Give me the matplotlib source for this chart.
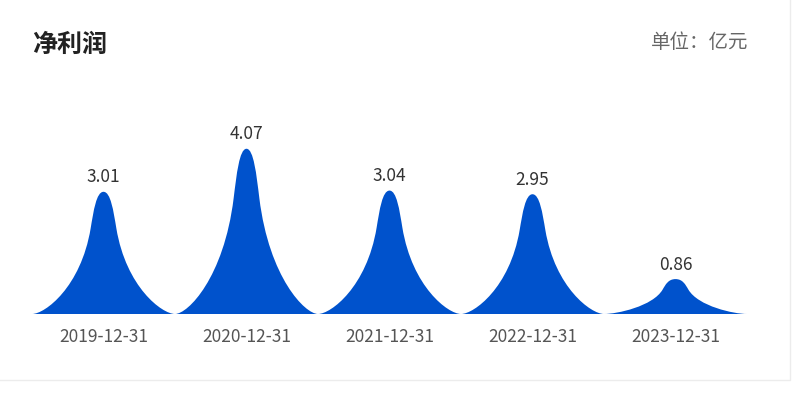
import matplotlib
matplotlib.use("Agg")
import matplotlib.pyplot as plt
from matplotlib.path import Path
from matplotlib.patches import PathPatch, Rectangle

plt.rcParams['font.family'] = ['Noto Sans CJK SC', 'DejaVu Sans']

# 数据
dates = ["2019-12-31", "2020-12-31", "2021-12-31", "2022-12-31", "2023-12-31"]
profits = [3.01, 4.07, 3.04, 2.95, 0.86]

BLUE = "#0052cc"

# 山峰轮廓 (半宽比例 u, 高度比例 y), 三次贝塞尔
C4 = Path.CURVE4
outline = [((-1, 0), Path.MOVETO), ((1, 0), Path.LINETO),
           ((0.82, 0), C4), ((0.3175, 0.219), C4), ((0.18, 0.7), C4),
           ((0.139, 0.844), C4), ((0.1, 1), C4), ((0, 1), C4),
           ((-0.1, 1), C4), ((-0.139, 0.844), C4), ((-0.18, 0.7), C4),
           ((-0.3175, 0.219), C4), ((-0.82, 0), C4), ((-1, 0), C4),
           ((-1, 0), Path.CLOSEPOLY)]


def peak(cx, h, w=1.0):
    verts = [(cx + u * w / 2, y * h) for (u, y), _ in outline]
    codes = [c for _, c in outline]
    return PathPatch(Path(verts, codes), facecolor=BLUE, edgecolor="none")


fig = plt.figure(figsize=(8, 3.97), dpi=100)
W, H = 800, 397

# 卡片边框
fig.patches.append(Rectangle((-0.01, (H - 380) / H), (790 + 8) / W, 1.1,
                             transform=fig.transFigure, fill=False,
                             edgecolor="#ececec", linewidth=1))

ax = fig.add_axes([32 / W, (H - 314) / H, 715 / W, 203 / H])
for i, v in enumerate(profits):
    ax.add_patch(peak(i, v))
    ax.annotate(f"{v:.2f}", (i, v), xytext=(0, 4), textcoords="offset points",
                ha="center", va="bottom", fontsize=12.5, color="#333333")
ax.set_xlim(-0.5, len(dates) - 0.5)
ax.set_ylim(0, 5)
ax.set_xticks(range(len(dates)))
ax.set_xticklabels(dates, fontsize=12.5, color="#555555")
ax.tick_params(axis="x", length=0, pad=10)
ax.set_yticks([])
for s in ax.spines.values():
    s.set_visible(False)

fig.text(32 / W, 1 - 45 / H, "净利润", fontsize=18, fontweight="bold",
         color="#222222", va="center", ha="left")
fig.text(748 / W, 1 - 42 / H, "单位：亿元", fontsize=14, color="#666666",
         va="center", ha="right")

fig.savefig("out.png", dpi=100)
